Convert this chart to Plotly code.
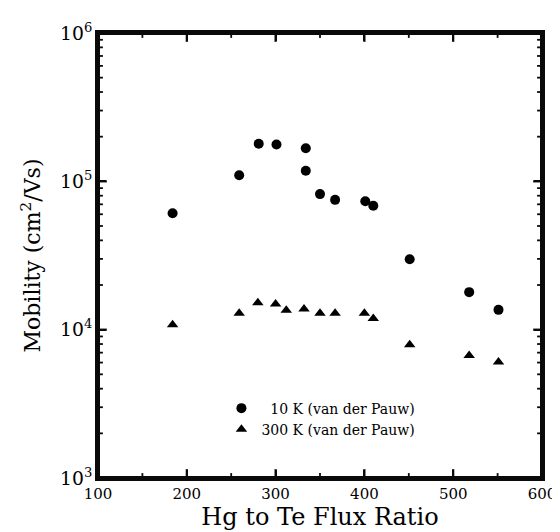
import plotly.graph_objects as go

# Data
flux_10k = [184, 259, 281, 301, 334, 334, 350, 367, 401, 410, 451, 518, 551]
mob_10k = [61000, 110000, 179000, 177000, 167000, 118000, 82000, 75000, 73500, 68500, 29800, 17900, 13600]

flux_300k = [184, 259, 280, 300, 312, 332, 350, 367, 400, 410, 451, 518, 551]
mob_300k = [10800, 12900, 15200, 14900, 13500, 13800, 12900, 12900, 12900, 11900, 7900, 6700, 6050]

# Axis definition
X_RANGE = [100, 600]
Y_DECADES = [3, 6]
x_major = [100, 200, 300, 400, 500, 600]
x_minor = [150, 250, 350, 450, 550]
y_major = [10.0 ** d for d in range(Y_DECADES[0], Y_DECADES[1] + 1)]
y_minor = [m * 10.0 ** d for d in range(Y_DECADES[0], Y_DECADES[1]) for m in range(2, 10)]

W, H = 560, 532
M = dict(l=90, r=17, t=18, b=62)
PW = W - M["l"] - M["r"]
PH = H - M["t"] - M["b"]

FONT = "DejaVu Serif"
INK = "#0a0a0a"

fig = go.Figure()
fig.add_trace(go.Scatter(
    x=flux_10k, y=mob_10k, mode="markers", name="&nbsp;&nbsp;10 K (van der Pauw)",
    marker=dict(symbol="circle", size=10, color="black"),
))
fig.add_trace(go.Scatter(
    x=flux_300k, y=mob_300k, mode="markers", name="300 K (van der Pauw)",
    marker=dict(symbol="triangle-up", size=10, color="black"),
))

def px_to_dx(p):
    return p * (X_RANGE[1] - X_RANGE[0]) / PW

def px_to_ddec(p):
    return p * (Y_DECADES[1] - Y_DECADES[0]) / PH

def add_ticks(length, width, xs, ys):
    tx, ty = [], []
    ylo, yhi = 10.0 ** Y_DECADES[0], 10.0 ** Y_DECADES[1]
    for v in xs:
        tx += [v, v, None, v, v, None]
        ty += [ylo, 10 ** (Y_DECADES[0] + px_to_ddec(length)), None,
               yhi, 10 ** (Y_DECADES[1] - px_to_ddec(length)), None]
    for v in ys:
        tx += [X_RANGE[0], X_RANGE[0] + px_to_dx(length), None,
               X_RANGE[1], X_RANGE[1] - px_to_dx(length), None]
        ty += [v, v, None, v, v, None]
    fig.add_trace(go.Scatter(x=tx, y=ty, mode="lines", line=dict(color=INK, width=width),
                             showlegend=False, hoverinfo="skip", connectgaps=False))

add_ticks(9, 2.2, x_major, y_major)
add_ticks(5, 1.8, x_minor, y_minor)

# frame as a closed line trace
fig.add_trace(go.Scatter(
    x=[X_RANGE[0], X_RANGE[1], X_RANGE[1], X_RANGE[0], X_RANGE[0]],
    y=[10.0 ** Y_DECADES[0], 10.0 ** Y_DECADES[0], 10.0 ** Y_DECADES[1], 10.0 ** Y_DECADES[1], 10.0 ** Y_DECADES[0]],
    mode="lines", line=dict(color=INK, width=4), showlegend=False, hoverinfo="skip", cliponaxis=False,
))

fig.update_layout(
    width=W, height=H,
    margin=M,
    paper_bgcolor="white", plot_bgcolor="white",
    font=dict(family=FONT, color="black", size=14),
    showlegend=True,
    legend=dict(x=0.278, y=0.192, xanchor="left", yanchor="top",
                bgcolor="rgba(0,0,0,0)", font=dict(size=14, family=FONT),
                tracegroupgap=0),
)
fig.update_xaxes(
    range=X_RANGE, tickvals=x_major, ticks="inside", ticklen=8, tickwidth=1.6,
    tickcolor=INK,
    showline=True, linecolor=INK, linewidth=2.5, mirror="allticks",
    showgrid=False, zeroline=False,
    title=dict(text="Hg to Te Flux Ratio", font=dict(size=24, family=FONT), standoff=6),
    tickfont=dict(size=15, family=FONT),
)
fig.update_yaxes(
    type="log", range=Y_DECADES, dtick=1, exponentformat="power", showexponent="all",
    ticks="inside", ticklen=8, tickwidth=1.6, tickcolor=INK,
    showline=True, linecolor=INK, linewidth=2.5, mirror="allticks",
    showgrid=False, zeroline=False,
    title=dict(text="Mobility (cm<sup>2</sup>/Vs)", font=dict(size=22, family=FONT), standoff=14),
    tickfont=dict(size=15, family=FONT),
)

fig.write_html("out.html")
